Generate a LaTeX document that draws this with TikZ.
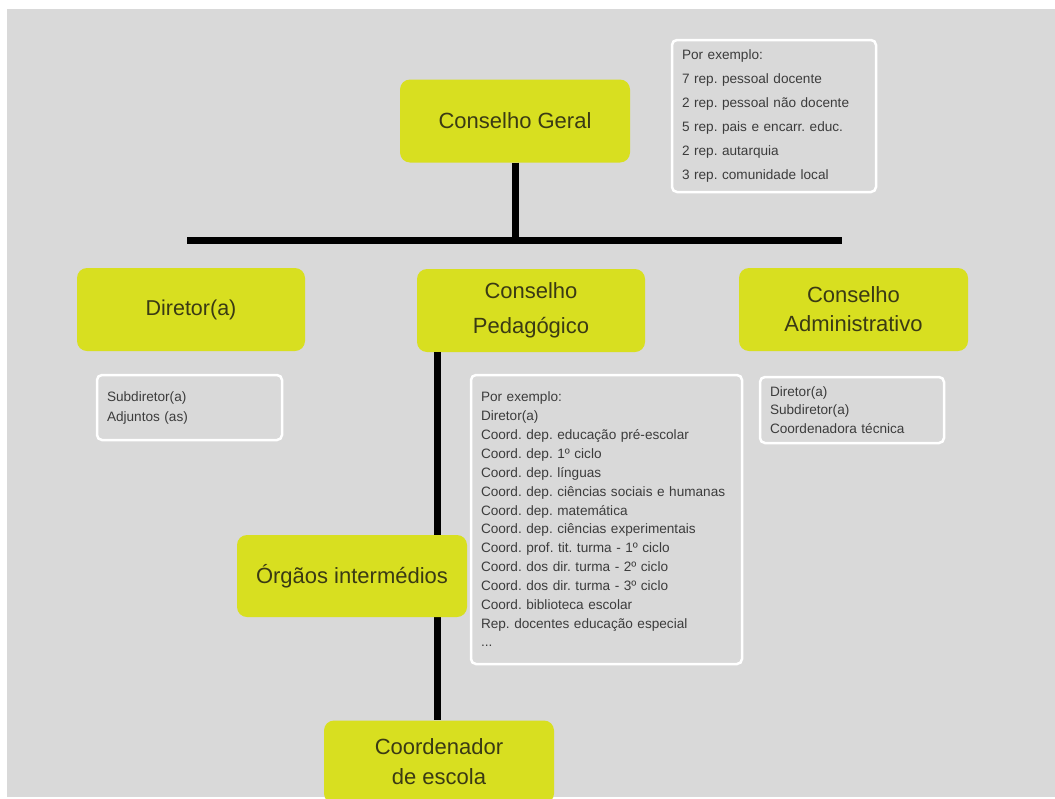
\documentclass[tikz,border=0pt]{standalone}
\usepackage{fontspec}
\setmainfont{Liberation Sans}
\definecolor{bggray}{HTML}{D9D9D9}
\definecolor{lime}{HTML}{D8DF20}
\definecolor{olivetext}{HTML}{3A3A14}
\definecolor{smalltext}{HTML}{3C3C3C}
\begin{document}
\frenchspacing
\begin{tikzpicture}[x=1pt,y=-1pt,
  limebox/.style={fill=lime, rounded corners=10pt, minimum width=230pt, minimum height=83pt,
    text=olivetext, align=center, inner sep=0pt},
  notebox/.style={draw=white, line width=2.5pt, rounded corners=5pt, fill=bggray,
    text=smalltext, align=left, inner xsep=10pt, inner ysep=0pt},
  barline/.style={line width=7pt, black}
]
\clip (0,0) rectangle (1055,798);
\fill[white] (0,0) rectangle (1055,798);
\fill[bggray] (7,9) rectangle (1055,797);

% main boxes
\node[limebox, font=\fontsize{22}{26}\selectfont] (cg) at (515,121) {Conselho Geral};
\node[limebox, minimum width=228pt, font=\fontsize{21.5}{26}\selectfont] (dir) at (191,309.5) {Diretor(a)};
\node[limebox, minimum width=228pt, font=\fontsize{22}{35}\selectfont] (cp) at (531,310.5) {Conselho\\Pedagógico};
\node[limebox, minimum width=229pt, font=\fontsize{22}{29}\selectfont] (ca) at (853.5,309.5) {Conselho\\Administrativo};
\node[limebox, font=\fontsize{22}{30}\selectfont] (co) at (439,762) {Coordenador\\de escola};

% connectors
\coordinate (barL) at (187,240);
\coordinate (barR) at (842,240);
\draw[barline] (barL) -- (barR);
\draw[barline] (cg.south) -- (cg.south |- barL);
\draw[barline] ([xshift=-94pt]cp.south) -- ([xshift=-2pt]co.north);

\node[limebox, minimum height=82pt, font=\fontsize{22}{26}\selectfont] (oi) at (352,576) {Órgãos intermédios};

% note boxes
\node[notebox, text width=184pt, minimum height=152pt, font=\fontsize{13.6}{24}\selectfont] (ex1) at (774,116)
  {Por exemplo:\\7 rep. pessoal docente\\2 rep. pessoal não docente\\5 rep. pais e encarr. educ.\\2 rep. autarquia\\3 rep. comunidade local};
\node[notebox, text width=165pt, minimum height=65pt, font=\fontsize{13.6}{20}\selectfont] (ex2) at (189.5,407.5)
  {Subdiretor(a)\\Adjuntos (as)};
\node[notebox, text width=251pt, minimum height=289pt, font=\fontsize{13.6}{18.85}\selectfont] (ex3) at (606.5,519.5)
  {Por exemplo:\\Diretor(a)\\Coord. dep. educação pré-escolar\\Coord. dep. 1º ciclo\\Coord. dep. línguas\\Coord. dep. ciências sociais e humanas\\Coord. dep. matemática\\Coord. dep. ciências experimentais\\Coord. prof. tit. turma - 1º ciclo\\Coord. dos dir. turma - 2º ciclo\\Coord. dos dir. turma - 3º ciclo\\Coord. biblioteca escolar\\Rep. docentes educação especial\\...};
\node[notebox, text width=164pt, minimum height=66pt, font=\fontsize{13.6}{18.5}\selectfont] (ex4) at (852,410)
  {Diretor(a)\\Subdiretor(a)\\Coordenadora técnica};
\end{tikzpicture}
\end{document}
